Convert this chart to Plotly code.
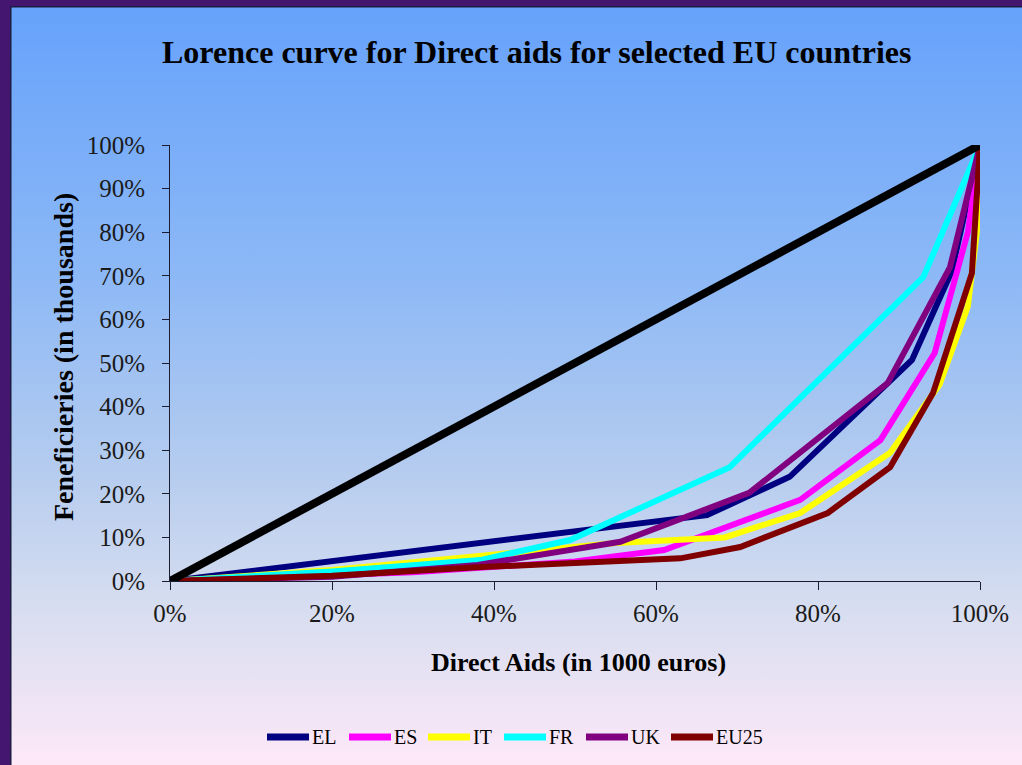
import base64
import plotly.graph_objects as go

# Cumulative shares (%) of direct aids (x) and beneficiaries (y) per country
countries = ["EL", "ES", "IT", "FR", "UK", "EU25"]
colors = ["#000080", "#ff00ff", "#ffff00", "#00ffff", "#800080", "#800000"]

el_x = [0, 49, 66.3, 76.5, 91.6, 96.5, 100]
el_y = [0, 11, 15.1, 23.9, 50.7, 71, 100]

es_x = [0, 30, 50, 61, 77.8, 87.7, 94.4, 98.5, 100]
es_y = [0, 2, 4.5, 7.1, 18.6, 32.3, 52.3, 80, 100]

it_x = [0, 20, 38.5, 55, 68.5, 77.8, 88.9, 95, 98.5, 100, 100]
it_y = [0, 2.5, 5.8, 8.7, 10, 15.6, 29.4, 45, 63, 86, 100]

fr_x = [0, 20, 38.3, 49.4, 69.1, 93, 100]
fr_y = [0, 2.2, 4.8, 9.4, 26.1, 69.7, 100]

uk_x = [0, 20, 38, 55.6, 71.5, 88.6, 96.3, 100]
uk_y = [0, 1, 3.7, 9, 20.2, 45.4, 72, 100]

eu_x = [0, 20, 38.5, 53, 63, 70.4, 81.2, 88.9, 94.2, 99, 100]
eu_y = [0, 1.2, 3.2, 4.2, 5.2, 7.8, 15.6, 26.1, 43.1, 70.6, 100]

equality_x = [0, 100]
equality_y = [0, 100]

x_ticks = [0, 20, 40, 60, 80, 100]
y_ticks = [0, 10, 20, 30, 40, 50, 60, 70, 80, 90, 100]
x_tick_text = [f"{v}%" for v in x_ticks]
y_tick_text = [f"{v}%" for v in y_ticks]

series_x = [el_x, es_x, it_x, fr_x, uk_x, eu_x]
series_y = [el_y, es_y, it_y, fr_y, uk_y, eu_y]

W, H = 1022, 765
L, R, T, B = 170, 42, 145, 184
PW, PH = W - L - R, H - T - B


def px_x(p):
    return (p - L) / PW


def px_y(p):
    return (H - B - p) / PH


SERIF = "Liberation Serif, Times New Roman, serif"

fig = go.Figure()
for name, col, xs, ys in zip(countries, colors, series_x, series_y):
    fig.add_trace(go.Scatter(x=xs, y=ys, mode="lines", name=name,
                             line=dict(color=col, width=6),
                             cliponaxis=False, showlegend=False))
fig.add_trace(go.Scatter(x=equality_x, y=equality_y, mode="lines",
                         line=dict(color="#000000", width=8),
                         cliponaxis=False, showlegend=False))

# panel background: vertical gradient with thin dark frame
svg = (
    '<svg xmlns="http://www.w3.org/2000/svg" width="1012" height="759" '
    'viewBox="0 0 1012 759" preserveAspectRatio="none">'
    '<defs><linearGradient id="g" x1="0" y1="0" x2="0" y2="1">'
    '<stop offset="0" stop-color="#66a2fb"/>'
    '<stop offset="0.35" stop-color="#8cb8f6"/>'
    '<stop offset="0.6" stop-color="#b3cbef"/>'
    '<stop offset="0.8" stop-color="#d8def0"/>'
    '<stop offset="1" stop-color="#fde8f8"/>'
    '</linearGradient></defs>'
    '<rect x="0" y="0" width="1012" height="759" fill="url(#g)"/>'
    '<rect x="0.75" y="0.75" width="1020" height="770" fill="none" '
    'stroke="#1c1c40" stroke-width="1.5"/>'
    '</svg>'
)
src = "data:image/svg+xml;base64," + base64.b64encode(svg.encode()).decode()
fig.add_layout_image(dict(source=src, xref="paper", yref="paper",
                          x=px_x(10), y=px_y(6), sizex=1012 / PW, sizey=759 / PH,
                          xanchor="left", yanchor="top", sizing="stretch",
                          layer="below"))


def label(text, x, y, size, angle=0, xanchor="center"):
    return dict(text=text, x=px_x(x), y=px_y(y), xref="paper", yref="paper",
                xanchor=xanchor, yanchor="middle", textangle=angle,
                showarrow=False, font=dict(family=SERIF, size=size, color="#000000"))


annotations = [
    label("<b>Lorence curve for Direct aids for selected EU countries</b>", 536, 52, 32),
    label("<b>Feneficieries (in thousands)</b>", 63, 357, 28, angle=-90),
    label("<b>Direct Aids (in 1000 euros)</b>", 578, 662, 26),
]

# legend row: line sample followed by label
shapes = []
legend_starts = [265, 347, 426, 502, 584, 669]
for name, col, sx in zip(countries, colors, legend_starts):
    shapes.append(dict(type="line", xref="paper", yref="paper",
                       x0=px_x(sx + 2), x1=px_x(sx + 44), y0=px_y(737), y1=px_y(737),
                       line=dict(color=col, width=7)))
    annotations.append(label(name, sx + 45, 737, 20, xanchor="left"))

fig.update_layout(
    width=W, height=H,
    margin=dict(l=L, r=R, t=T, b=B, autoexpand=False),
    paper_bgcolor="#44166f",
    plot_bgcolor="rgba(0,0,0,0)",
    showlegend=False,
    annotations=annotations,
    shapes=shapes,
    xaxis=dict(range=[0, 100], tickmode="array", tickvals=x_ticks, ticktext=x_tick_text,
               showgrid=False, zeroline=False, showline=True,
               linecolor="#1c1c30", linewidth=1, ticks="outside", ticklen=8,
               ticklabelstandoff=2,
               tickcolor="#1c1c30", tickfont=dict(family=SERIF, size=25, color="#1a1a1a")),
    yaxis=dict(range=[0, 100], tickmode="array", tickvals=y_ticks, ticktext=y_tick_text,
               showgrid=False, zeroline=False, showline=True,
               linecolor="#1c1c30", linewidth=1, ticks="outside", ticklen=7,
               ticklabelstandoff=12,
               tickcolor="#1c1c30", tickfont=dict(family=SERIF, size=25, color="#1a1a1a")),
)

fig.write_html("out.html")
